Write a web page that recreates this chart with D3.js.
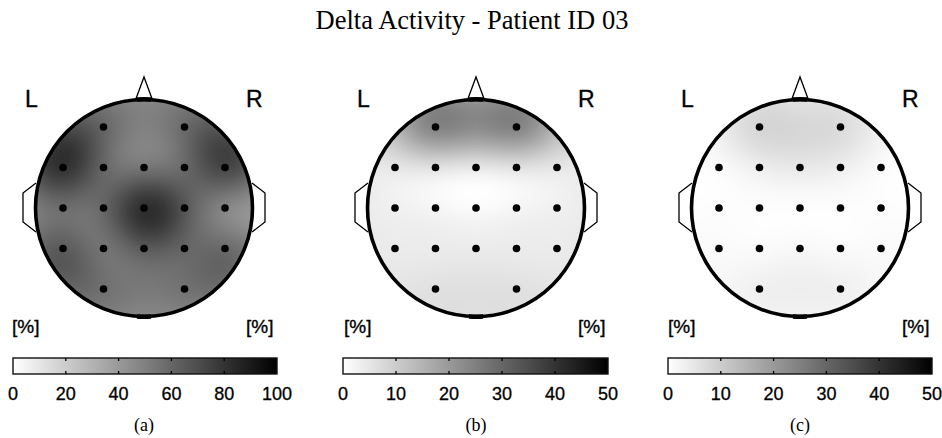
<!DOCTYPE html>
<html>
<head>
<meta charset="utf-8">
<script src="https://cdn.jsdelivr.net/npm/d3@7"></script>
<style>
  html, body { margin: 0; padding: 0; background: #fff; }
  svg { display: block; }
</style>
</head>
<body>
<svg id="chart" width="942" height="438"></svg>
<script>
// 10-20 montage, laid out on a 5 x 5 grid (column, row relative to Cz)
const electrodes   = ["Fp1","Fp2","F7","F3","Fz","F4","F8","T3","C3","Cz","C4","T4","T5","P3","Pz","P4","T6","O1","O2"];
const electrodeCol = [-1, 1, -2, -1, 0, 1, 2, -2, -1, 0, 1, 2, -2, -1, 0, 1, 2, -1, 1];
const electrodeRow = [-2, -2, -1, -1, -1, -1, -1, 0, 0, 0, 0, 0, 1, 1, 1, 1, 1, 2, 2];

// relative delta power [%] per electrode
const deltaA = [60, 58, 80, 60, 54, 59, 72, 57, 60, 81, 66, 48, 64, 55, 64, 60, 58, 56, 55];
const deltaB = [24, 24, 5, 6, 5, 6, 5, 3, 2, 1, 2, 3, 4, 4, 4, 4, 4, 6, 6];
const deltaC = [8, 7, 1, 3.5, 4.5, 3.5, 1, 0.5, 0.5, 0.5, 0.5, 0.5, 1, 1, 1.5, 1, 1, 3, 3];

// level each map settles to away from the electrodes
const restLevels = [34, 5, 0];

// colour bar ranges and tick labels
const scaleMax    = [100, 50, 50];
const ticksA      = [0, 20, 40, 60, 80, 100];
const ticksB      = [0, 10, 20, 30, 40, 50];
const ticksC      = [0, 10, 20, 30, 40, 50];
const panelLabels = ["(a)", "(b)", "(c)"];
const titleText   = "Delta Activity - Patient ID 03";

const svg = d3.select("#chart");
const SANS = "'Liberation Sans', Arial, Helvetica, sans-serif";
const SERIF = "'Liberation Serif', 'Times New Roman', serif";

const panels = [
  { cx: 144, values: deltaA, rest: restLevels[0], max: scaleMax[0], ticks: ticksA, bar: [13, 277], label: panelLabels[0] },
  { cx: 476, values: deltaB, rest: restLevels[1], max: scaleMax[1], ticks: ticksB, bar: [343, 608], label: panelLabels[1] },
  { cx: 800, values: deltaC, rest: restLevels[2], max: scaleMax[2], ticks: ticksC, bar: [668, 932], label: panelLabels[2] }
];

const CY = 208;        // head centre y
const R = 108.5;       // head outline radius
const SPACING = 40.5;  // electrode grid spacing in px
const SIGMA = 0.85;    // gaussian kernel width in grid units

// Gaussian elimination with partial pivoting
function solve(A, b) {
  const n = b.length;
  const M = A.map((r, i) => r.concat([b[i]]));
  for (let k = 0; k < n; k++) {
    let p = k;
    for (let i = k + 1; i < n; i++) if (Math.abs(M[i][k]) > Math.abs(M[p][k])) p = i;
    [M[k], M[p]] = [M[p], M[k]];
    for (let i = k + 1; i < n; i++) {
      const f = M[i][k] / M[k][k];
      for (let j = k; j <= n; j++) M[i][j] -= f * M[k][j];
    }
  }
  const x = new Array(n).fill(0);
  for (let i = n - 1; i >= 0; i--) {
    let s = M[i][n];
    for (let j = i + 1; j < n; j++) s -= M[i][j] * x[j];
    x[i] = s / M[i][i];
  }
  return x;
}

// radial basis interpolation passing exactly through the electrode values
function makeField(vals, rest) {
  const n = vals.length;
  const k = d2 => Math.exp(-d2 / (2 * SIGMA * SIGMA));
  const A = [];
  for (let i = 0; i < n; i++) {
    const row = [];
    for (let j = 0; j < n; j++) {
      const dx = electrodeCol[i] - electrodeCol[j], dy = electrodeRow[i] - electrodeRow[j];
      row.push(k(dx * dx + dy * dy));
    }
    A.push(row);
  }
  const w = solve(A, vals.map(v => v - rest));
  return (x, y) => {
    let s = rest;
    for (let j = 0; j < n; j++) {
      const dx = x - electrodeCol[j], dy = y - electrodeRow[j];
      s += w[j] * k(dx * dx + dy * dy);
    }
    return s;
  };
}

// title
svg.append("text")
  .attr("x", 472).attr("y", 29)
  .attr("text-anchor", "middle")
  .attr("font-family", SERIF).attr("font-size", 26.5)
  .text(titleText);

const defs = svg.append("defs");

panels.forEach((p, pi) => {
  const g = svg.append("g");
  const color = d3.scaleLinear().domain([0, p.max]).range(["#ffffff", "#000000"]).clamp(true);

  // interpolated map on a 1px grid
  const N = 2 * Math.ceil(R) + 4;
  const field = makeField(p.values, p.rest);
  const grid = new Float64Array(N * N);
  for (let j = 0; j < N; j++) {
    for (let i = 0; i < N; i++) {
      const px = i + 0.5 - N / 2, py = j + 0.5 - N / 2;
      grid[j * N + i] = field(px / SPACING, py / SPACING);
    }
  }
  const step = p.max / 256;
  const lo = d3.min(grid), hi = d3.max(grid);
  const thresholds = d3.range(0, p.max + step, step).filter(t => t <= hi);
  const contours = d3.contours().size([N, N]).thresholds(thresholds)(grid);

  const clipId = "head-clip-" + pi;
  defs.append("clipPath").attr("id", clipId)
    .append("circle").attr("cx", p.cx).attr("cy", CY).attr("r", R);

  const mapG = g.append("g").attr("clip-path", `url(#${clipId})`);
  mapG.append("circle").attr("cx", p.cx).attr("cy", CY).attr("r", R)
    .attr("fill", color(Math.max(0, lo)));
  mapG.append("g")
    .attr("transform", `translate(${p.cx - N / 2},${CY - N / 2})`)
    .selectAll("path")
    .data(contours.filter(c => c.value >= lo - step))
    .join("path")
    .attr("d", d3.geoPath())
    .attr("fill", d => color(d.value + step / 2));

  // nose and ears
  const line = d3.line();
  g.append("path")
    .attr("d", line([[p.cx - 8.5, CY - R + 0.5], [p.cx, CY - 131], [p.cx + 8.5, CY - R + 0.5]]))
    .attr("fill", "none").attr("stroke", "#000").attr("stroke-width", 1.3);
  [-1, 1].forEach(s => {
    g.append("path")
      .attr("d", line([[p.cx + s * (R - 0.5), CY - 25], [p.cx + s * 121, CY - 15], [p.cx + s * 121, CY + 14], [p.cx + s * (R - 0.5), CY + 24]]))
      .attr("fill", "none").attr("stroke", "#000").attr("stroke-width", 1.3);
  });

  // head outline
  g.append("circle").attr("cx", p.cx).attr("cy", CY).attr("r", R)
    .attr("fill", "none").attr("stroke", "#000").attr("stroke-width", 3.6);
  const cap = d3.arc().innerRadius(R - 2).outerRadius(R + 2.5);
  [0, Math.PI].forEach(a => {
    g.append("path")
      .attr("transform", `translate(${p.cx},${CY})`)
      .attr("d", cap({ startAngle: a - 0.065, endAngle: a + 0.065 }))
      .attr("fill", "#000");
  });

  // electrodes
  g.selectAll("circle.electrode")
    .data(electrodes)
    .join("circle")
    .attr("class", "electrode")
    .attr("cx", (d, i) => p.cx + electrodeCol[i] * SPACING)
    .attr("cy", (d, i) => CY + electrodeRow[i] * SPACING)
    .attr("r", 3.8)
    .attr("fill", "#000");

  // side labels
  const sideText = (x, y, size, t) => g.append("text").attr("x", x).attr("y", y)
    .attr("font-family", SANS).attr("font-size", size)
    .attr("stroke", "#000").attr("stroke-width", 0.35)
    .text(t);
  sideText(p.cx - 119, 107, 23, "L");
  sideText(p.cx + 102, 107, 23, "R");
  sideText(p.cx - 132, 333, 19, "[%]");
  sideText(p.cx + 102, 333, 19, "[%]");

  // colour bar
  const x = d3.scaleLinear().domain([0, p.max]).range(p.bar);
  const gradId = "bar-grad-" + pi;
  const grad = defs.append("linearGradient").attr("id", gradId)
    .attr("x1", "0%").attr("x2", "100%").attr("y1", "0%").attr("y2", "0%");
  d3.range(0, 1.0001, 0.1).forEach(f => {
    grad.append("stop").attr("offset", (f * 100) + "%").attr("stop-color", color(f * p.max));
  });
  const barTop = 358, barH = 16;
  g.append("rect")
    .attr("x", p.bar[0]).attr("y", barTop)
    .attr("width", p.bar[1] - p.bar[0]).attr("height", barH)
    .attr("fill", `url(#${gradId})`)
    .attr("stroke", "#111").attr("stroke-width", 1.4);
  const inner = p.ticks.slice(1, -1);
  g.selectAll("line.tt").data(inner).join("line")
    .attr("x1", d => x(d)).attr("x2", d => x(d))
    .attr("y1", barTop).attr("y2", barTop + 3)
    .attr("stroke", "#000").attr("stroke-width", 1.3);
  g.selectAll("line.tb").data(inner).join("line")
    .attr("x1", d => x(d)).attr("x2", d => x(d))
    .attr("y1", barTop + barH - 3).attr("y2", barTop + barH)
    .attr("stroke", "#000").attr("stroke-width", 1.3);
  g.selectAll("text.tick").data(p.ticks).join("text")
    .attr("class", "tick")
    .attr("x", d => x(d)).attr("y", 400)
    .attr("text-anchor", "middle")
    .attr("font-family", SANS).attr("font-size", 18)
    .attr("stroke", "#000").attr("stroke-width", 0.3)
    .text(d => d);

  // panel caption
  g.append("text").attr("x", p.cx).attr("y", 431)
    .attr("text-anchor", "middle")
    .attr("font-family", SERIF).attr("font-size", 18)
    .text(p.label);
});
</script>
</body>
</html>
